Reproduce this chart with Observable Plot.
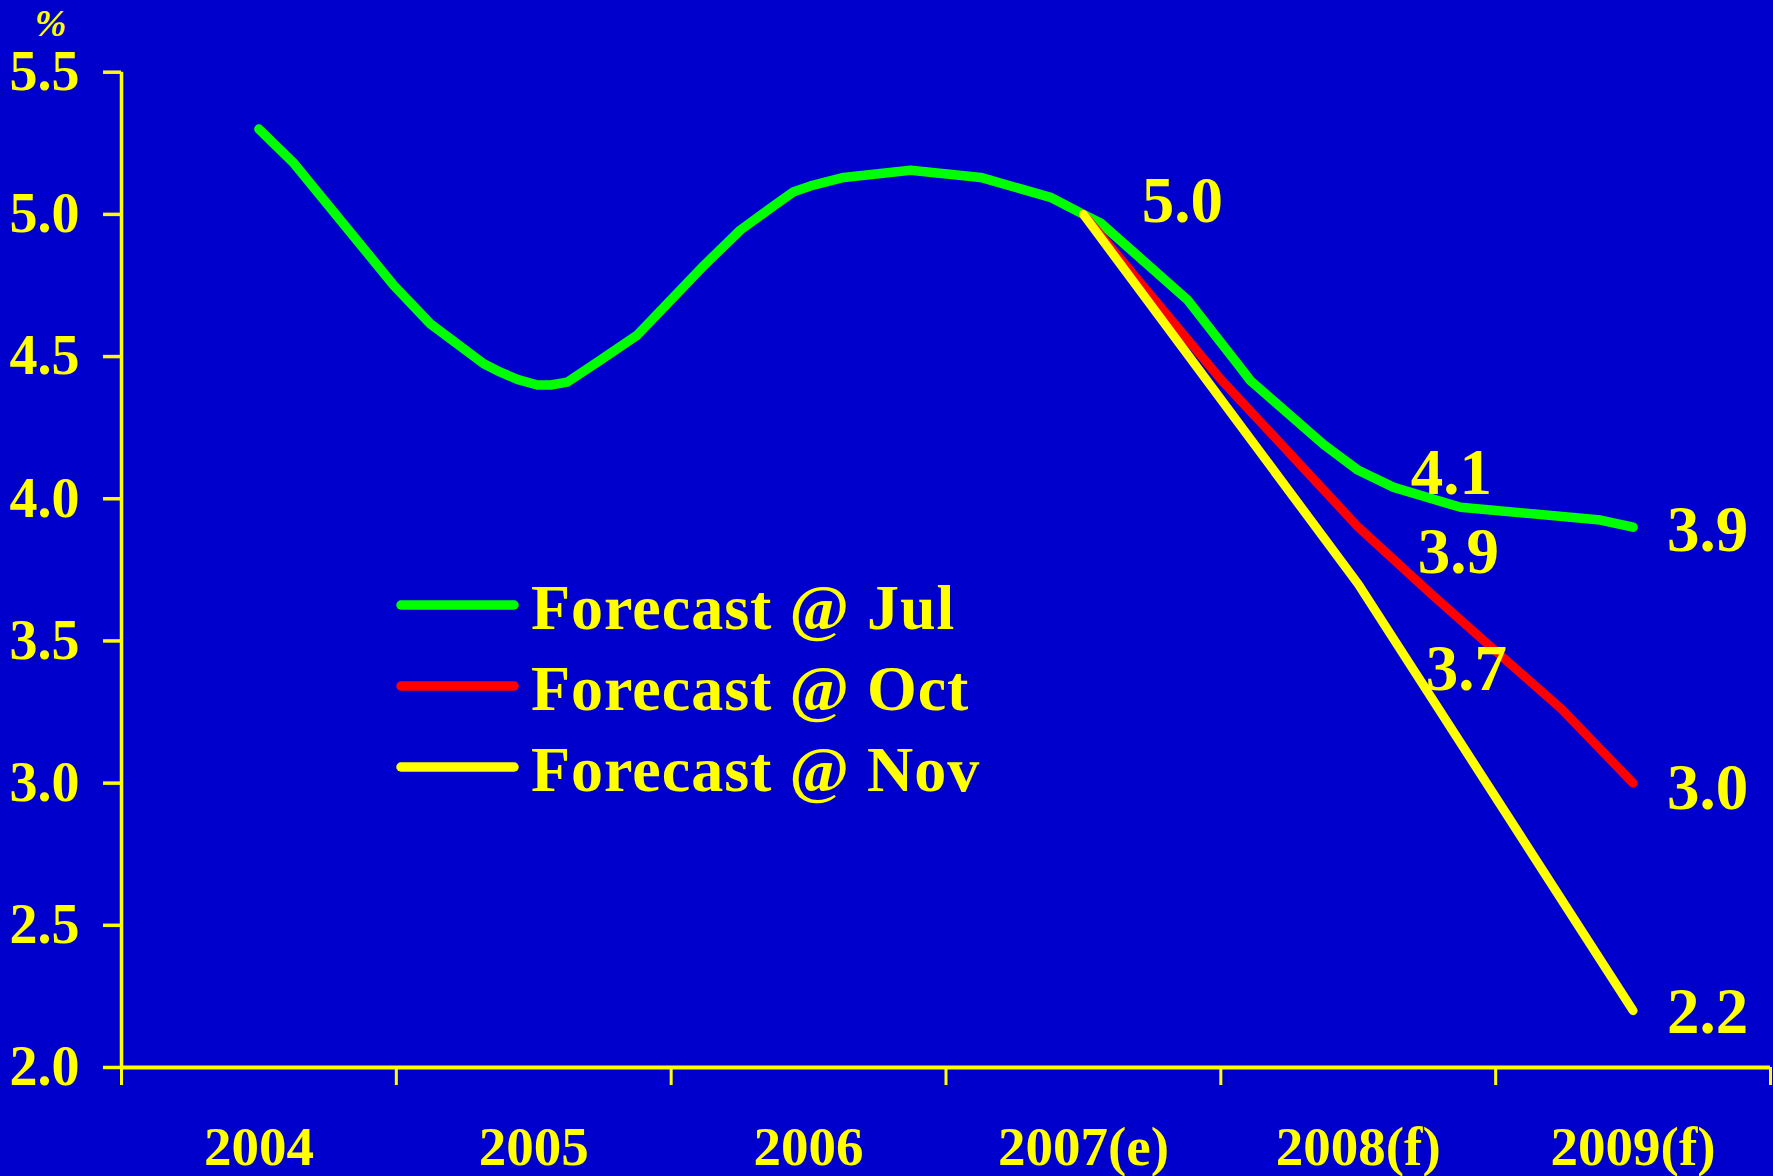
<!DOCTYPE html>
<html>
<head>
<meta charset="utf-8">
<script src="https://cdn.jsdelivr.net/npm/d3@7"></script>
<script src="https://cdn.jsdelivr.net/npm/@observablehq/plot@0.6"></script>
<style>
  html, body { margin: 0; padding: 0; background: #0000cc; }
  #chart { width: 1773px; height: 1176px; overflow: hidden; }
</style>
</head>
<body>
<div id="chart"></div>
<script>
// ---- Data ----
const yearLabels = ["2004", "2005", "2006", "2007(e)", "2008(f)", "2009(f)"];
const yTicks = [2.0, 2.5, 3.0, 3.5, 4.0, 4.5, 5.0, 5.5];
const seriesNames = ["Forecast @ Jul", "Forecast @ Oct", "Forecast @ Nov"];

// x in year-index units (0 = 2004 ... 5 = 2009(f))
const julX = [0, 0.127, 0.491, 0.624, 0.818, 0.879, 0.940, 1.013, 1.061, 1.122, 1.231, 1.376, 1.619, 1.752,
              1.873, 1.946, 2.007, 2.128, 2.371, 2.626, 2.880, 3.0, 3.062, 3.378, 3.572, 3.608, 3.875, 4.0,
              4.129, 4.372, 4.881, 5.0];
const julY = [5.30, 5.18, 4.75, 4.615, 4.475, 4.445, 4.42, 4.40, 4.40, 4.41, 4.48, 4.575, 4.82, 4.945,
              5.03, 5.08, 5.10, 5.13, 5.155, 5.13, 5.06, 5.0, 4.97, 4.70, 4.46, 4.415, 4.19, 4.1,
              4.04, 3.97, 3.925, 3.9];
const octX = [3, 3.5, 4, 4.26, 4.47, 4.74, 5];
const octY = [5.0, 4.42, 3.9, 3.67, 3.49, 3.26, 3.0];
const novX = [3, 4, 5];
const novY = [5.0, 3.7, 2.2];

// value labels
const labelText = ["5.0", "4.1", "3.9", "3.7", "3.9", "3.0", "2.2"];
const labelX = [3, 4, 4, 4, 5, 5, 5];
const labelY = [5.0, 4.1, 3.9, 3.7, 3.9, 3.0, 2.2];

// ---- Styles ----
const BG = "#0000cc", YELLOW = "#ffff00", GREEN = "#00ff00", RED = "#ff0000";
const colors = [GREEN, RED, YELLOW];
const FONT = "'Liberation Serif', 'Times New Roman', Times, serif";
const labelDx = [99, 93, 100, 108, 34, 34, 34];
const labelDy = [-13, 3, 25, 85, 3, 5, 2];
const labelAnchor = ["middle", "middle", "middle", "middle", "start", "start", "start"];

const jul = julX.map((x, i) => ({x, y: julY[i]}));
const oct = octX.map((x, i) => ({x, y: octY[i]}));
const nov = novX.map((x, i) => ({x, y: novY[i]}));
const labels = labelText.map((t, i) => ({t, x: labelX[i], y: labelY[i], dx: labelDx[i], dy: labelDy[i], a: labelAnchor[i]}));
const boundaries = d3.range(0, 7).map(i => i - 0.5);

const W = 1773, H = 1176;
const chart = Plot.plot({
  width: W,
  height: H,
  marginLeft: 121,
  marginRight: 3,
  marginTop: 71.7,
  marginBottom: 109,
  style: {background: BG, color: YELLOW, fontFamily: FONT, fontSize: "55px", fontWeight: "bold", overflow: "visible"},
  x: {type: "linear", domain: [-0.5, 5.5]},
  y: {domain: [2, 5.5]},
  marks: [
    Plot.ruleX([-0.5], {stroke: YELLOW, strokeWidth: 3.5}),
    Plot.ruleY([2], {stroke: YELLOW, strokeWidth: 4}),
    Plot.axisY({ticks: yTicks, tickSize: 18, tickPadding: 24, strokeWidth: 3.5,
      tickFormat: d => d.toFixed(1), fontSize: 56, fontWeight: "bold", fontFamily: FONT, label: null}),
    Plot.axisX({ticks: boundaries, tickSize: 18, strokeWidth: 3, tickFormat: () => "", label: null}),
    Plot.axisX({ticks: d3.range(0, 6), tickSize: 0, tickPadding: 58,
      tickFormat: i => yearLabels[i], fontSize: 55, fontWeight: "bold", fontFamily: FONT, label: null}),
    Plot.text(["%"], {frameAnchor: "top-left", dx: -71, dy: -48, fontSize: 38, fontStyle: "italic",
      fontWeight: "bold", fill: YELLOW, textAnchor: "middle", lineAnchor: "middle"}),
    Plot.line(jul, {x: "x", y: "y", stroke: GREEN, strokeWidth: 9.5, strokeLinecap: "round", strokeLinejoin: "round"}),
    Plot.line(oct, {x: "x", y: "y", stroke: RED, strokeWidth: 9, strokeLinecap: "round", strokeLinejoin: "round"}),
    Plot.line(nov, {x: "x", y: "y", stroke: YELLOW, strokeWidth: 9, strokeLinecap: "round", strokeLinejoin: "round"}),
    ...labels.map(l => Plot.text([l], {x: "x", y: "y", text: "t", dx: l.dx, dy: l.dy, textAnchor: l.a,
      lineAnchor: "middle", fill: YELLOW, fontSize: 65, fontWeight: "bold", fontFamily: FONT}))
  ]
});

// ---- Legend (inside the chart area) ----
const svg = d3.select(chart);
const leg = svg.append("g").attr("class", "legend").attr("text-anchor", "start");
const legTop = 605, legStep = 81;
seriesNames.forEach((name, i) => {
  const yy = legTop + i * legStep;
  leg.append("line").attr("x1", 401).attr("x2", 514).attr("y1", yy).attr("y2", yy)
    .attr("stroke", colors[i]).attr("stroke-width", 9.5).attr("stroke-linecap", "round");
  leg.append("text").attr("x", 531).attr("y", yy + 24)
    .attr("text-anchor", "start")
    .attr("fill", YELLOW).attr("font-family", FONT).attr("font-weight", "bold")
    .attr("letter-spacing", "1px")
    .attr("font-size", 64).text(name);
});

document.getElementById("chart").appendChild(chart);
</script>
</body>
</html>
